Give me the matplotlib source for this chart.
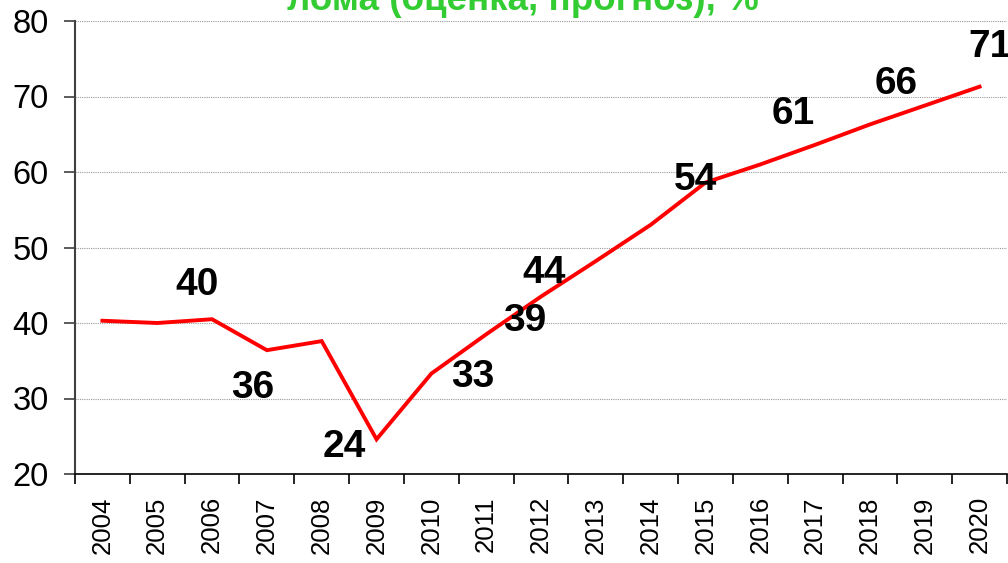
#
# Scrap share chart: line with bold value labels
#

import matplotlib
matplotlib.use("Agg")
import matplotlib.pyplot as plt
from matplotlib.ticker import FixedLocator

years = [str(y) for y in range(2004, 2021)]
share = [40.3, 40.0, 40.5, 36.4, 37.6, 24.6, 33.3, 38.5, 43.5, 48.2,
         53.0, 58.6, 61.0, 63.6, 66.3, 68.8, 71.3]

# value labels: text and where they sit (category index, y value)
label_text = ["40", "36", "24", "33", "39", "44", "54", "61", "66", "71"]
label_x = [1.73, 2.74, 4.42, 6.75, 7.71, 8.06, 10.82, 12.61, 14.48, 16.2]
label_y = [45.0, 31.4, 23.6, 32.85, 40.3, 46.6, 58.9, 67.7, 71.7, 76.6]

title = "лома (оценка, прогноз), %"

plt.rcParams['font.family'] = ['Liberation Sans', 'DejaVu Sans']

fig = plt.figure(figsize=(10.08, 5.63), dpi=100)
ax = fig.add_axes([75 / 1008, 1 - 474 / 563, 932 / 1008, 453 / 563])

x = list(range(len(years)))
ax.plot(x, share, color='#ff0000', linewidth=2.8, solid_joinstyle='miter',
        zorder=3)

for t, lx, ly in zip(label_text, label_x, label_y):
    ax.text(lx, ly, t, ha='center', va='center', fontsize=28,
            fontweight='bold', color='black', zorder=4, clip_on=False)

ax.set_xlim(-0.5, len(years) - 0.5)
ax.set_ylim(20, 80)
ax.set_yticks(range(20, 81, 10))
ax.tick_params(axis='y', labelsize=23.5, length=8, width=1.2,
               color='#404040', pad=11)

# ticks between categories, labels at category centres
ax.xaxis.set_major_locator(FixedLocator([i - 0.5 for i in range(len(years) + 1)]))
ax.xaxis.set_minor_locator(FixedLocator(x))
ax.xaxis.set_major_formatter(plt.NullFormatter())
ax.set_xticklabels(years, minor=True, rotation=90)
ax.tick_params(axis='x', which='major', length=7, width=1.2, color='black')
ax.tick_params(axis='x', which='minor', length=0, labelsize=18.5, pad=16)

ax.grid(axis='y', linestyle=(0, (1, 1)), color='#999999', linewidth=0.8)
ax.set_axisbelow(True)

for side in ['top', 'right']:
    ax.spines[side].set_visible(False)
ax.spines['left'].set_color('#404040')
ax.spines['left'].set_linewidth(1.5)
ax.spines['bottom'].set_color('black')
ax.spines['bottom'].set_linewidth(1.2)

fig.text(0.519, 1 - 10 / 563, title, ha='center', va='baseline',
         fontsize=26.5, fontweight='bold', color='#33cc33')

fig.savefig("out.png", dpi=100)
